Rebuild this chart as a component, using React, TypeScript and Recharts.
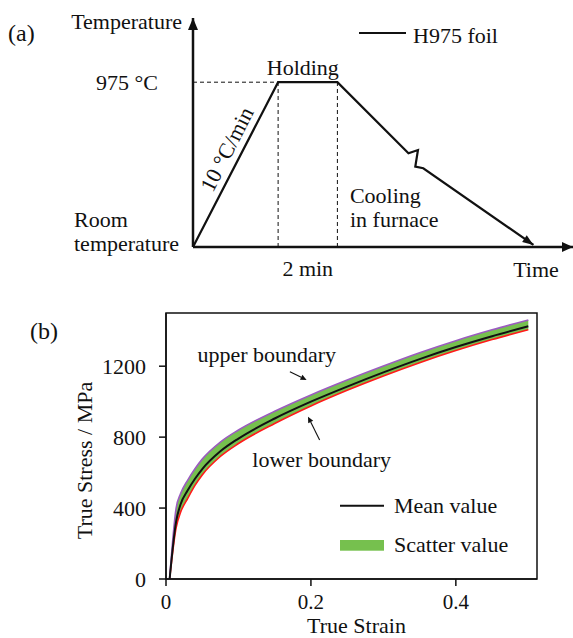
import {
  Area,
  ComposedChart,
  Legend,
  Line,
  LineChart,
  ReferenceArea,
  ReferenceDot,
  ReferenceLine,
  XAxis,
  YAxis,
} from "recharts";

const SERIF = '"Liberation Serif", "Times New Roman", serif';
const INK = "#111";
const BAND = "#76c04e";
const UPPER = "#9b5cc0";
const LOWER = "#ff1a1a";
const FS = 22;

// (a) heat treatment schedule: schematic time units, temperature in °C
const scheduleTime = [0, 22.4, 38.0, 56.7, 59.2, 58.5, 60.6, 89.6];
const scheduleTemp = [25, 975, 975, 565, 584, 488, 479, 37];
const holdStart = 22.4;
const holdEnd = 38.0;
const holdMid = 30.2;
const tempTicks = [25, 975];
const tempTickText: Record<number, string[]> = {
  25: ["Room", "temperature"],
  975: ["975 °C"],
};

// (b) true stress-strain of the foil: mean curve and scatter band
const strain = [0.005, 0.014, 0.02, 0.03, 0.04, 0.05, 0.075, 0.1, 0.15, 0.2, 0.25, 0.3, 0.35, 0.4, 0.45, 0.5];
const meanStress = [0, 325, 420, 500, 565, 620, 720, 792, 905, 1000, 1085, 1165, 1240, 1308, 1369, 1425];
const upperStress = [0, 400, 480, 558, 622, 676, 772, 840, 946, 1038, 1122, 1201, 1276, 1344, 1405, 1461];
const lowerStress = [0, 290, 375, 455, 528, 587, 691, 764, 877, 976, 1064, 1145, 1220, 1288, 1350, 1406];
const strainTicks = [0, 0.2, 0.4];
const stressTicks = [0, 400, 800, 1200];

const scheduleRows = scheduleTime.map((t, i) => ({ t, T: scheduleTemp[i] }));
const curveRows = strain.map((s, i) => ({
  strain: s,
  mean: meanStress[i],
  upper: upperStress[i],
  lower: lowerStress[i],
  band: [lowerStress[i], upperStress[i]],
}));

const textStyle = { fontFamily: SERIF, fontSize: FS, fill: INK };

// arrow drawn along a reference segment, head at the second point
function arrow(len: number, half: number, width: number, shaft: boolean) {
  return (p: any) => {
    const x1 = Number(p.x1);
    const y1 = Number(p.y1);
    const x2 = Number(p.x2);
    const y2 = Number(p.y2);
    const a = Math.atan2(y2 - y1, x2 - x1);
    const bx = x2 - len * Math.cos(a);
    const by = y2 - len * Math.sin(a);
    const nx = -Math.sin(a) * half;
    const ny = Math.cos(a) * half;
    return (
      <g>
        {shaft && <line x1={x1} y1={y1} x2={bx} y2={by} stroke={INK} strokeWidth={width} />}
        <polygon points={`${x2},${y2} ${bx + nx},${by + ny} ${bx - nx},${by - ny}`} fill={INK} />
      </g>
    );
  };
}

// free text placed at a data point
function note(lines: string[], anchor: "start" | "middle" | "end" = "middle", angle = 0) {
  return (props: any) => {
    const vb = props.viewBox ?? {};
    const x = Number(vb.x ?? 0) + Number(vb.width ?? 0) / 2;
    const y = Number(vb.y ?? 0) + Number(vb.height ?? 0) / 2;
    return (
      <text
        x={x}
        y={y}
        textAnchor={anchor}
        dominantBaseline={angle ? "central" : undefined}
        transform={angle ? `rotate(${angle} ${x} ${y})` : undefined}
        {...textStyle}
      >
        {lines.map((l, i) => (
          <tspan key={i} x={x} dy={i === 0 ? 0 : 24.5}>
            {l}
          </tspan>
        ))}
      </text>
    );
  };
}

function TempTick(props: any) {
  const { x, y, payload } = props;
  const lines = tempTickText[payload.value] ?? [String(payload.value)];
  if (lines.length === 1) {
    return (
      <text x={x} y={y + 8} textAnchor="end" {...textStyle}>
        {lines[0]}
      </text>
    );
  }
  const left = x - 84;
  return (
    <text x={left} y={y - 20} textAnchor="start" {...textStyle}>
      {lines.map((l, i) => (
        <tspan key={i} x={left} dy={i === 0 ? 0 : 24}>
          {l}
        </tspan>
      ))}
    </text>
  );
}

const scheduleLegend = (props: any) => {
  const item = props.payload?.[0];
  return (
    <svg width={160} height={30} style={{ display: "block", overflow: "visible" }}>
      <line x1={0} x2={47} y1={13} y2={13} stroke={INK} strokeWidth={2} />
      <text x={54} y={22.5} {...textStyle}>
        {item?.value}
      </text>
    </svg>
  );
};

const curveLegend = (props: any) => {
  const items: any[] = props.payload ?? [];
  const mean = items.find((it) => it.dataKey === "mean");
  const band = items.find((it) => it.dataKey === "band");
  return (
    <svg width={200} height={70} style={{ display: "block", overflow: "visible" }}>
      <line x1={0} x2={44} y1={15.7} y2={15.7} stroke={INK} strokeWidth={2} />
      <text x={54} y={23.3} {...textStyle}>
        {mean?.value}
      </text>
      <rect x={0} y={50} width={44} height={10.7} fill={BAND} />
      <text x={54} y={61.7} {...textStyle}>
        {band?.value}
      </text>
    </svg>
  );
};

function ScheduleChart() {
  return (
    <LineChart
      width={573}
      height={295}
      data={scheduleRows}
      margin={{ top: 18, right: 0, bottom: 4, left: 60 }}
    >
      <XAxis
        dataKey="t"
        type="number"
        domain={[0, 100]}
        ticks={[holdMid]}
        tickFormatter={() => "2 min"}
        height={44}
        tickSize={0}
        tickMargin={13}
        axisLine={{ stroke: INK, strokeWidth: 2.5 }}
        tickLine={false}
        tick={textStyle}
        label={{
          content: (p: any) => (
            <text
              x={p.viewBox.x + p.viewBox.width - 37}
              y={p.viewBox.y + 29.7}
              textAnchor="middle"
              {...textStyle}
            >
              Time
            </text>
          ),
        }}
      />
      <YAxis
        type="number"
        domain={[25, 1345]}
        ticks={tempTicks}
        width={133}
        tickSize={0}
        tickMargin={35}
        axisLine={{ stroke: INK, strokeWidth: 2.5 }}
        tickLine={false}
        tick={<TempTick />}
        label={{
          content: (p: any) => (
            <text
              x={p.viewBox.x + p.viewBox.width - 11}
              y={p.viewBox.y + 11.3}
              textAnchor="end"
              {...textStyle}
            >
              Temperature
            </text>
          ),
        }}
      />
      <ReferenceLine
        segment={[{ x: 0, y: 1300 }, { x: 0, y: 1345 }]}
        ifOverflow="visible"
        shape={arrow(12, 5, 2.5, false)}
      />
      <ReferenceLine
        segment={[{ x: 90, y: 25 }, { x: 100, y: 25 }]}
        ifOverflow="visible"
        shape={arrow(11, 5, 2.5, false)}
      />
      <ReferenceLine
        segment={[{ x: 0, y: 975 }, { x: holdStart, y: 975 }]}
        stroke={INK}
        strokeWidth={1}
        strokeDasharray="4 3"
      />
      <ReferenceLine
        segment={[{ x: holdStart, y: 25 }, { x: holdStart, y: 975 }]}
        stroke={INK}
        strokeWidth={1}
        strokeDasharray="4 3"
      />
      <ReferenceLine
        segment={[{ x: holdEnd, y: 25 }, { x: holdEnd, y: 975 }]}
        stroke={INK}
        strokeWidth={1}
        strokeDasharray="4 3"
      />
      <Line
        dataKey="T"
        name="H975 foil"
        type="linear"
        stroke={INK}
        strokeWidth={2.2}
        dot={false}
        isAnimationActive={false}
      />
      <ReferenceLine
        segment={[
          { x: scheduleTime[6], y: scheduleTemp[6] },
          { x: scheduleTime[7], y: scheduleTemp[7] },
        ]}
        shape={arrow(11, 4, 2, false)}
      />
      <ReferenceDot x={28.9} y={1016} r={0} fill="none" stroke="none" label={{ content: note(["Holding"]) }} />
      <ReferenceDot
        x={8.8}
        y={590}
        r={0}
        fill="none"
        stroke="none"
        label={{ content: note(["10 °C/min"], "middle", -63) }}
      />
      <ReferenceDot
        x={41.3}
        y={279}
        r={0}
        fill="none"
        stroke="none"
        label={{ content: note(["Cooling", "in furnace"], "start") }}
      />
      <Legend
        layout="vertical"
        align="center"
        verticalAlign="middle"
        wrapperStyle={{ left: 359, top: 20, width: "auto" }}
        content={scheduleLegend}
      />
    </LineChart>
  );
}

function CurveChart() {
  return (
    <ComposedChart
      width={573}
      height={348}
      data={curveRows}
      margin={{ top: 23, right: 36, bottom: 0, left: 66 }}
    >
      <XAxis
        dataKey="strain"
        type="number"
        domain={[0, 0.512]}
        ticks={strainTicks}
        height={59}
        tickSize={7}
        tickMargin={8}
        axisLine={{ stroke: INK, strokeWidth: 1.5 }}
        tickLine={{ stroke: INK, strokeWidth: 1.5 }}
        tick={{ ...textStyle, fontSize: 21 }}
        label={{
          content: (p: any) => (
            <text
              x={p.viewBox.x + p.viewBox.width / 2 + 5}
              y={p.viewBox.y + 54.2}
              textAnchor="middle"
              {...textStyle}
            >
              True Strain
            </text>
          ),
        }}
      />
      <YAxis
        type="number"
        domain={[0, 1500]}
        ticks={stressTicks}
        width={100}
        tickSize={7}
        tickMargin={13}
        axisLine={{ stroke: INK, strokeWidth: 1.5 }}
        tickLine={{ stroke: INK, strokeWidth: 1.5 }}
        tick={textStyle}
        label={{
          content: (p: any) => {
            const x = p.viewBox.x + 25.7;
            const y = p.viewBox.y + p.viewBox.height / 2 + 14.5;
            return (
              <text x={x} y={y} textAnchor="middle" transform={`rotate(-90 ${x} ${y})`} {...textStyle}>
                True Stress / MPa
              </text>
            );
          },
        }}
      />
      <ReferenceArea x1={0} x2={0.512} y1={0} y2={1500} fill="none" stroke={INK} strokeWidth={1.5} />
      <Area
        dataKey="band"
        name="Scatter value"
        type="monotone"
        fill={BAND}
        fillOpacity={1}
        stroke="none"
        isAnimationActive={false}
      />
      <Line
        dataKey="lower"
        type="monotone"
        stroke={LOWER}
        strokeWidth={1.6}
        dot={false}
        legendType="none"
        isAnimationActive={false}
      />
      <Line
        dataKey="upper"
        type="monotone"
        stroke={UPPER}
        strokeWidth={1.6}
        dot={false}
        legendType="none"
        isAnimationActive={false}
      />
      <Line
        dataKey="mean"
        name="Mean value"
        type="monotone"
        stroke={INK}
        strokeWidth={2}
        dot={false}
        isAnimationActive={false}
      />
      <ReferenceLine
        segment={[{ x: 0.171, y: 1169 }, { x: 0.194, y: 1122 }]}
        shape={arrow(6, 2.8, 1.1, true)}
      />
      <ReferenceLine
        segment={[{ x: 0.212, y: 784 }, { x: 0.196, y: 915 }]}
        shape={arrow(6, 2.8, 1.1, true)}
      />
      <ReferenceDot x={0.139} y={1224} r={0} fill="none" stroke="none" label={{ content: note(["upper boundary"]) }} />
      <ReferenceDot x={0.2148} y={634} r={0} fill="none" stroke="none" label={{ content: note(["lower boundary"]) }} />
      <Legend
        layout="vertical"
        align="center"
        verticalAlign="middle"
        wrapperStyle={{ left: 340, top: 200, width: "auto" }}
        content={curveLegend}
      />
    </ComposedChart>
  );
}

const panelTag = {
  position: "absolute" as const,
  fontFamily: SERIF,
  fontSize: 24,
  lineHeight: "24px",
  color: INK,
};

export default function App() {
  return (
    <div style={{ position: "absolute", left: 0, top: 0, width: 573, height: 638, background: "#fff" }}>
      <div style={{ position: "absolute", left: 0, top: 0 }}>
        <ScheduleChart />
      </div>
      <div style={{ position: "absolute", left: 0, top: 290 }}>
        <CurveChart />
      </div>
      <div style={{ ...panelTag, left: 8, top: 21 }}>(a)</div>
      <div style={{ ...panelTag, left: 30, top: 319 }}>(b)</div>
    </div>
  );
}
